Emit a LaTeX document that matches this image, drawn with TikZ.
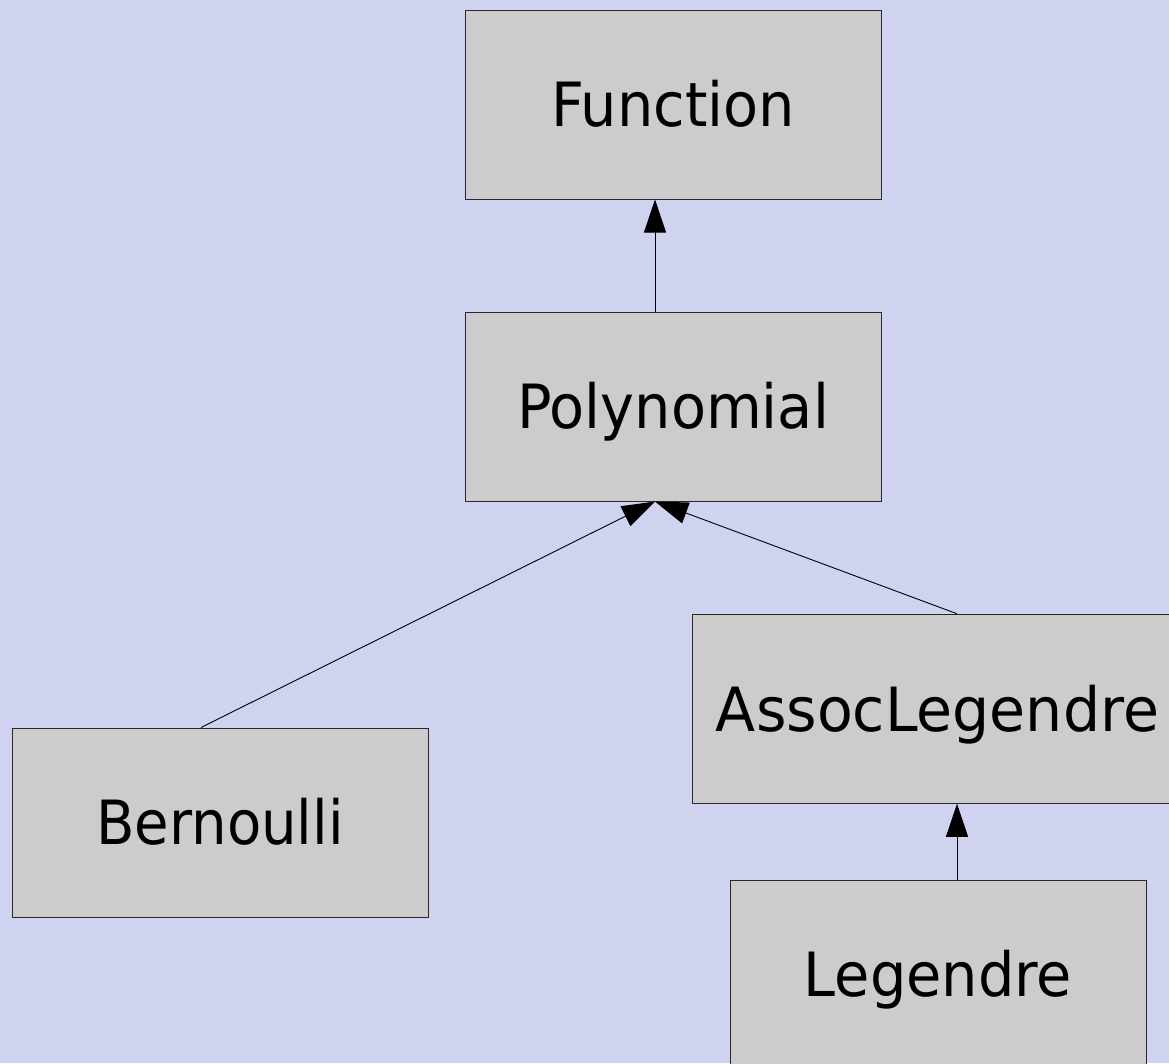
\documentclass[tikz,border=0pt]{standalone}
\usepackage{fontspec}
\setmainfont{DejaVu Sans}
\usetikzlibrary{arrows.meta}
\definecolor{bgc}{RGB}{207,211,239}
\definecolor{boxc}{RGB}{204,204,204}
\definecolor{edgec}{RGB}{40,40,40}
\newcommand{\clsname}[2][0.94]{\scalebox{#1}[1]{#2}}
\tikzset{
  cls/.style={draw=edgec, fill=boxc, line width=1pt, rectangle, inner sep=0pt,
    minimum height=189pt, text height=44.5pt, text depth=0pt,
    font=\fontsize{61pt}{62pt}\selectfont},
  inh/.style={draw=black, line width=0.9pt, -{Triangle[length=33pt,width=22pt]}}
}
\begin{document}
\begin{tikzpicture}[x=1pt,y=-1pt]
\useasboundingbox (0,0) rectangle (1169,1063);
\fill[bgc] (0,0) rectangle (1169,1063);
\node[cls, minimum width=416pt] (func) at (673,104.5) {\clsname{Function}};
\node[cls, minimum width=416pt] (poly) at (673,406.5) {\clsname{Polynomial}};
\node[cls, minimum width=416pt] (bern) at (220,822.5) {\clsname[0.92]{Bernoulli}};
\node[cls, minimum width=491pt] (assoc) at (937.5,708.75) {\clsname[0.96]{AssocLegendre}};
\node[cls, minimum width=416pt] (leg) at (938,974.5) {\clsname{Legendre}};
\coordinate (cx) at (655,0);
\coordinate (bx) at (201,0);
\coordinate (ax) at (957,0);
\draw[inh] (poly.north -| cx) -- (func.south -| cx);
\draw[inh] (bern.north -| bx) -- (poly.south -| cx);
\draw[inh] (assoc.north -| ax) -- (poly.south -| cx);
\draw[inh] (leg.north -| ax) -- (assoc.south -| ax);
\end{tikzpicture}
\end{document}
